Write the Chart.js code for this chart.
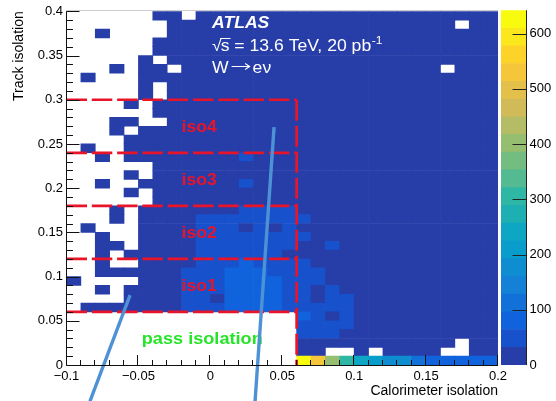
<!DOCTYPE html>
<html>
<head>
<meta charset="utf-8">
<title>Track vs calorimeter isolation</title>
<script src="https://cdn.jsdelivr.net/npm/chart.js@4.4.1/dist/chart.umd.min.js"></script>
<style>
    html, body { margin: 0; padding: 0; background: #fff; }
    #wrap { position: relative; width: 556px; height: 401px; }
    #wrap canvas { position: absolute; left: 0; top: 0; }
</style>
</head>
<body>
<div id="wrap">
    <canvas id="mapChart" width="556" height="401"></canvas>
    <canvas id="scaleChart" width="556" height="401"></canvas>
</div>
<script>
// ==============================================
// DATA
// ==============================================

// bin lower edges, bins are 0.01 wide on both axes
const xBinLows = [-0.10, -0.09, -0.08, -0.07, -0.06, -0.05, -0.04, -0.03, -0.02, -0.01,
                   0.00,  0.01,  0.02,  0.03,  0.04,  0.05,  0.06,  0.07,  0.08,  0.09,
                   0.10,  0.11,  0.12,  0.13,  0.14,  0.15,  0.16,  0.17,  0.18,  0.19];
const yBinLows = [0.00, 0.01, 0.02, 0.03, 0.04, 0.05, 0.06, 0.07, 0.08, 0.09,
                  0.10, 0.11, 0.12, 0.13, 0.14, 0.15, 0.16, 0.17, 0.18, 0.19,
                  0.20, 0.21, 0.22, 0.23, 0.24, 0.25, 0.26, 0.27, 0.28, 0.29,
                  0.30, 0.31, 0.32, 0.33, 0.34, 0.35, 0.36, 0.37, 0.38, 0.39];
const binSize = 0.01;

// entries per bin, one row per track isolation bin, top row (0.39-0.40) first, 0 = empty
const binCounts = [
    [0,0,0,0,0,0,2,2,0,3,4,4,5,5,5,      4,3,3,2,2,2,2,2,2,2,2,2,2,2,2],
    [0,0,0,0,0,0,0,2,3,3,4,5,5,5,5,      5,3,3,3,2,2,2,2,2,2,2,2,0,2,2],
    [0,0,1,0,0,0,0,2,3,4,5,5,6,6,5,      5,3,3,3,2,2,2,2,2,2,2,2,2,2,2],
    [0,0,0,0,0,0,1,2,3,4,5,6,6,6,6,      5,3,3,3,3,2,2,2,2,2,2,2,2,2,2],
    [0,0,0,0,0,0,1,2,3,4,6,6,7,6,6,      5,4,3,3,3,2,2,2,2,2,2,2,2,2,2],
    [0,0,0,0,0,1,0,2,3,4,6,6,7,7,6,      6,4,3,3,3,2,2,2,2,2,2,2,2,2,2],
    [0,0,0,1,0,1,1,0,3,4,6,7,7,7,7,      6,4,3,3,3,2,2,2,2,2,2,0,2,2,2],
    [0,1,0,0,0,1,2,2,3,5,6,7,8,8,7,      6,4,4,3,3,2,2,2,2,2,2,2,2,2,2],
    [0,0,0,0,0,1,0,2,3,5,7,8,8,8,8,      7,4,4,3,3,2,2,2,2,2,2,2,2,2,2],
    [0,0,0,0,0,1,0,2,4,5,7,8,9,9,8,      7,5,4,3,3,2,2,2,2,2,2,2,2,2,2],
    [0,0,0,0,1,0,2,3,4,6,8,9,10,10,9,    8,5,4,4,3,3,2,2,2,2,2,2,2,2,2],
    [0,0,0,0,0,0,2,3,5,6,9,10,11,11,10,  9,5,4,4,3,3,2,2,2,2,2,2,2,2,2],
    [0,0,0,1,1,0,0,3,5,7,10,11,12,12,11, 10,6,5,4,3,3,2,2,2,2,2,2,2,2,2],
    [0,0,0,1,0,2,3,4,6,8,11,12,14,14,12, 11,6,5,4,4,3,3,2,2,2,2,2,2,2,2],
    [0,0,0,0,1,2,3,5,7,9,12,14,16,16,14, 12,7,5,4,4,3,3,2,2,2,2,2,2,2,2],
    [0,1,0,0,1,2,4,5,7,10,13,15,18,18,15, 13,7,6,5,4,3,3,2,2,2,2,2,2,2,2],
    [0,0,1,0,1,2,4,6,8,11,15,17,38,20,17, 15,8,6,5,4,3,3,2,2,2,2,2,2,2,2],
    [0,0,0,0,0,0,4,6,9,12,16,19,22,22,19, 16,8,7,5,4,3,3,2,2,2,2,2,2,2,2],
    [0,0,0,0,1,0,5,7,10,13,18,21,24,24,21, 18,9,7,6,4,3,3,2,2,2,2,2,2,2,2],
    [0,0,1,0,0,3,5,8,11,15,20,23,40,27,23, 20,10,8,6,5,4,3,2,2,2,2,2,2,2,2],
    [0,0,0,0,1,0,6,9,12,16,22,26,30,30,26, 22,11,8,6,5,4,3,2,2,2,2,2,2,2,2],
    [0,0,0,0,0,0,7,10,14,18,25,28,31,31,28, 25,12,9,7,5,4,3,3,2,2,2,2,2,2,2],
    [0,0,0,1,0,4,8,12,16,24,30,30,45,48,38, 40,14,10,8,6,4,3,3,2,2,2,2,2,2,2],
    [0,0,0,1,0,5,9,13,18,34,45,48,50,52,46, 42,40,12,9,6,5,3,3,2,2,2,2,2,2,2],
    [0,1,0,0,0,5,10,14,20,36,46,50,28,52,30, 44,20,14,10,7,5,4,3,2,2,2,2,2,2,2],
    [0,0,1,0,0,6,11,16,22,38,50,54,56,55,52, 48,42,16,11,7,5,4,3,2,2,2,2,2,2,2],
    [0,0,1,1,0,7,12,18,24,40,52,56,60,58,54, 50,24,18,40,8,6,4,3,2,2,2,2,2,2,2],
    [0,0,1,0,1,8,14,20,26,42,55,60,62,60,56, 28,26,20,14,9,6,4,3,2,2,2,2,2,2,2],
    [0,0,1,0,0,9,15,22,28,45,58,64,66,64,60, 52,45,22,16,10,7,5,3,2,2,2,2,2,2,2],
    [0,0,1,1,1,10,16,24,40,48,60,66,70,68,62, 55,46,40,18,11,7,5,3,2,2,2,2,2,2,2],
    [1,0,0,0,0,11,18,26,42,50,62,68,72,75,66, 58,48,42,20,12,8,5,3,2,2,2,2,2,2,2],
    [0,0,1,0,1,12,20,28,44,52,60,70,74,78,68, 60,50,24,40,14,8,5,3,2,2,2,2,2,2,2],
    [0,0,0,0,1,14,22,30,46,54,28,72,70,66,70, 62,46,22,42,40,9,6,3,2,2,2,2,2,2,2],
    [0,1,1,1,1,16,24,32,48,55,60,70,72,68,66, 60,48,44,40,42,10,6,3,2,2,2,2,2,2,2],
    [0,0,0,0,0,0,0,0,0,0,0,0,0,0,0,      0,70,45,22,42,12,8,5,3,2,2,2,2,2,2],
    [0,0,0,0,0,0,0,0,0,0,0,0,0,0,0,      0,48,46,44,40,14,9,6,4,3,3,2,2,2,2],
    [0,0,0,0,0,0,0,0,0,0,0,0,0,0,0,      0,45,44,42,24,15,10,7,5,4,3,3,2,2,2],
    [0,0,0,0,0,0,0,0,0,0,0,0,0,0,0,      0,30,26,22,18,14,10,8,6,5,4,3,0,3,3],
    [0,0,0,0,0,0,0,0,0,0,0,0,0,0,0,      0,24,18,0,0,12,0,8,7,6,5,0,0,4,4],
    [0,0,0,0,0,0,0,0,0,0,0,0,0,0,0,      0,642,530,400,300,245,205,180,175,100,95,92,95,90,88]
];

// axis ticks and labels
const xTickValues = [-0.1, -0.05, 0, 0.05, 0.1, 0.15, 0.2];
const xTickLabels = ['\u22120.1', '\u22120.05', '0', '0.05', '0.1', '0.15', '0.2'];
const yTickValues = [0, 0.05, 0.1, 0.15, 0.2, 0.25, 0.3, 0.35, 0.4];
const yTickLabels = ['0', '0.05', '0.1', '0.15', '0.2', '0.25', '0.3', '0.35', '0.4'];
const zTickValues = [0, 100, 200, 300, 400, 500, 600];
const zTickLabels = ['0', '100', '200', '300', '400', '500', '600'];
const zMax = 642;

// isolation working points: upper track isolation edge of each region, calo cut
const isoCuts = [0.06, 0.12, 0.18, 0.24, 0.30];
const isoNames = ['iso1', 'iso2', 'iso3', 'iso4'];
const caloCut = 0.06;

// the two blue pointer strokes (ends in axis units)
const pointerA = [{ x: -0.0558, y: 0.079 }, { x: -0.0837, y: -0.041 }];
const pointerB = [{ x: 0.0443, y: 0.269 }, { x: 0.0311, y: -0.041 }];

// ==============================================
// STYLE
// ==============================================
// ROOT kBird palette, 20 contour levels
const levelColours = ['#273da8', '#1751cb', '#1063dc', '#1271d9', '#1480d6',
                      '#0e8ed1', '#099dcc', '#0da7c3', '#1eafb3', '#2eb7a4',
                      '#53ba91', '#74bd81', '#96be71', '#b4bd65', '#d1bb59',
                      '#e3c04a', '#f5c63a', '#fdd32a', '#fbe81c', '#f9fb0e'];
const FONT = "'Liberation Sans', Arial, Helvetica, sans-serif";
const textStretch = 1.1;
const isoRed = '#e8142a';
const passGreen = '#27e42a';
const pointerBlue = 'rgb(78,146,214)';

function levelColour(n) {
    const lvl = Math.min(levelColours.length - 1, Math.floor(n / zMax * levelColours.length));
    return levelColours[lvl];
}

// ==============================================
// BUILD HEATMAP CELLS
// ==============================================
const cells = [];
const cellColours = [];
binCounts.forEach(function(row, r) {
    const yLow = yBinLows[yBinLows.length - 1 - r];
    row.forEach(function(n, c) {
        if (!n) return;
        cells.push({ x: xBinLows[c] + binSize / 2, y: [yLow, yLow + binSize] });
        cellColours.push(levelColour(n));
    });
});

const cutLines = isoCuts.map(function(cut) {
    return {
        type: 'line',
        data: [{ x: xBinLows[0], y: cut }, { x: caloCut, y: cut }],
        borderColor: isoRed,
        borderWidth: 2.7,
        borderDash: [20.5, 4.8],
        pointRadius: 0,
        order: 2
    };
});
cutLines.push({
    type: 'line',
    data: [{ x: caloCut, y: isoCuts[isoCuts.length - 1] }, { x: caloCut, y: 0 }],
    borderColor: isoRed,
    borderWidth: 2.7,
    borderDash: [21, 5],
    pointRadius: 0,
    order: 2
});

const pointerLines = [pointerA, pointerB].map(function(pts) {
    return {
        type: 'line',
        data: pts,
        borderColor: pointerBlue,
        borderWidth: 3.4,
        pointRadius: 0,
        clip: false,
        order: 1
    };
});

// ==============================================
// PLUGINS
// ==============================================
function stretchedText(ctx, text, x, y, font, colour) {
    ctx.save();
    ctx.translate(x, y);
    ctx.scale(textStretch, 1);
    ctx.font = font;
    ctx.fillStyle = colour;
    ctx.textAlign = 'left';
    ctx.textBaseline = 'alphabetic';
    ctx.fillText(text, 0, 0);
    const w = ctx.measureText(text).width * textStretch;
    ctx.restore();
    return w;
}

// labels drawn right after the heatmap, below the lines
const plotLabels = {
    id: 'plotLabels',
    afterDatasetDraw(chart, args) {
        if (args.index !== 0) return;
        const { ctx, scales: { x, y } } = chart;

        // ATLAS block
        const left = 212;
        stretchedText(ctx, 'ATLAS', left, 28, 'italic bold 16px ' + FONT, '#fff');
        const rootW = stretchedText(ctx, '\u221A', left, 50.5, '16px ' + FONT, '#fff');
        const sW = stretchedText(ctx, 's', left + rootW - 1, 50.5, '16px ' + FONT, '#fff');
        ctx.save();
        ctx.strokeStyle = '#fff';
        ctx.lineWidth = 1;
        ctx.beginPath();
        ctx.moveTo(left + rootW - 1.5, 38.5);
        ctx.lineTo(left + rootW + sW, 38.5);
        ctx.stroke();
        ctx.restore();
        const restW = stretchedText(ctx, ' = 13.6 TeV, 20 pb', left + rootW + sW - 1, 50.5, '16px ' + FONT, '#fff');
        stretchedText(ctx, '-1', left + rootW + sW + restW - 0.5, 44, '11px ' + FONT, '#fff');

        // W -> e nu, with a drawn long arrow
        const wW = stretchedText(ctx, 'W', left, 73, '16px ' + FONT, '#fff');
        const ax0 = left + wW + 3, ax1 = ax0 + 18, ay = 66.5;
        ctx.save();
        ctx.strokeStyle = '#fff';
        ctx.lineWidth = 1.1;
        ctx.beginPath();
        ctx.moveTo(ax0, ay);
        ctx.lineTo(ax1, ay);
        ctx.moveTo(ax1 - 4.5, ay - 3);
        ctx.lineTo(ax1, ay);
        ctx.lineTo(ax1 - 4.5, ay + 3);
        ctx.stroke();
        ctx.restore();
        stretchedText(ctx, 'e\u03BD', ax1 + 3, 73, '16px ' + FONT, '#fff');

        // isolation region names
        isoNames.forEach(function(name, i) {
            const mid = (isoCuts[i] + isoCuts[i + 1]) / 2;
            stretchedText(ctx, name, x.getPixelForValue(-0.02), y.getPixelForValue(mid) + 5.8,
                'bold 16px ' + FONT, isoRed);
        });
        stretchedText(ctx, 'pass isolation', x.getPixelForValue(-0.0477), y.getPixelForValue(0.0237),
            'bold 16.5px ' + FONT, passGreen);
    }
};

// ROOT style frame with inward tick marks
const rootAxes = {
    id: 'rootAxes',
    afterDatasetsDraw(chart) {
        const { ctx, chartArea: a, scales: { x, y } } = chart;
        const isMajor = (list, v) => list.some(t => Math.abs(t - v) < 1e-6);
        ctx.save();
        ctx.lineWidth = 1;
        ctx.strokeStyle = '#ccc';
        ctx.beginPath();
        ctx.moveTo(a.left, Math.round(a.top) - 0.5);
        ctx.lineTo(a.right, Math.round(a.top) - 0.5);
        ctx.stroke();

        ctx.strokeStyle = '#111';
        ctx.beginPath();
        const bx = Math.round(a.left) - 0.5;
        const by = Math.round(a.bottom) + 0.5;
        ctx.moveTo(bx, a.top);
        ctx.lineTo(bx, by);
        ctx.lineTo(a.right, by);
        xBinLows.concat([0.2]).forEach(function(v) {
            const px = Math.round(x.getPixelForValue(v)) - 0.5;
            const len = isMajor(xTickValues, v) ? 10.5 : 5.5;
            ctx.moveTo(px, by);
            ctx.lineTo(px, by - len);
        });
        yBinLows.concat([0.4]).forEach(function(v) {
            const py = Math.round(y.getPixelForValue(v)) + 0.5;
            const len = isMajor(yTickValues, v) ? 13 : 6.5;
            ctx.moveTo(bx, py);
            ctx.lineTo(bx + len, py);
        });
        ctx.stroke();
        ctx.restore();
    }
};

// ==============================================
// MAIN CHART
// ==============================================
new Chart(document.getElementById('mapChart'), {
    type: 'bar',
    data: {
        datasets: [{
            type: 'bar',
            data: cells,
            backgroundColor: cellColours,
            borderWidth: 0,
            barPercentage: 1,
            categoryPercentage: 1,
            order: 3
        }].concat(cutLines, pointerLines)
    },
    options: {
        responsive: false,
        animation: false,
        events: [],
        devicePixelRatio: 1,
        layout: { padding: { top: 9.5, right: 58, left: 0, bottom: 0 } },
        plugins: {
            legend: { display: false },
            tooltip: { enabled: false }
        },
        scales: {
            x: {
                type: 'linear',
                min: -0.1,
                max: 0.2,
                offset: false,
                grid: { display: false, drawTicks: false, offset: false },
                border: { display: false },
                afterBuildTicks: s => { s.ticks = xTickValues.map(v => ({ value: v })); },
                afterFit: s => { s.height = 36; },
                ticks: {
                    autoSkip: false,
                    maxRotation: 0,
                    padding: 3.5,
                    color: '#000',
                    font: { family: FONT, size: 13 },
                    callback: (v, i) => xTickLabels[i]
                },
                title: {
                    display: true,
                    text: 'Calorimeter isolation',
                    align: 'end',
                    color: '#000',
                    font: { family: FONT, size: 14 },
                    padding: { top: 0, bottom: 1 }
                }
            },
            y: {
                type: 'linear',
                min: 0,
                max: 0.4,
                grid: { display: false, drawTicks: false },
                border: { display: false },
                afterBuildTicks: s => { s.ticks = yTickValues.map(v => ({ value: v })); },
                afterFit: s => { s.width = 66.5; },
                ticks: {
                    autoSkip: false,
                    padding: 3.5,
                    color: '#000',
                    font: { family: FONT, size: 13 },
                    callback: (v, i) => yTickLabels[i]
                },
                title: {
                    display: true,
                    text: 'Track isolation',
                    align: 'end',
                    color: '#000',
                    font: { family: FONT, size: 14 },
                    padding: { top: 11, bottom: 0 }
                }
            }
        }
    },
    plugins: [plotLabels, rootAxes]
});

// ==============================================
// COLOUR SCALE (z axis)
// ==============================================
const zBands = levelColours.map(function(c, i) {
    return {
        data: [[zMax * i / levelColours.length, zMax * (i + 1) / levelColours.length]],
        backgroundColor: c,
        borderWidth: 0,
        grouped: false,
        barPercentage: 1,
        categoryPercentage: 1
    };
});

const zAxisTicks = {
    id: 'zAxisTicks',
    afterDatasetsDraw(chart) {
        const { ctx, chartArea: a, scales: { y } } = chart;
        ctx.save();
        ctx.strokeStyle = '#222';
        ctx.lineWidth = 1;
        ctx.beginPath();
        const rx = Math.round(a.right) - 0.5;
        ctx.moveTo(rx, a.top);
        ctx.lineTo(rx, a.bottom);
        zTickValues.forEach(function(v) {
            if (v === 0) return;
            const py = Math.round(y.getPixelForValue(v)) + 0.5;
            ctx.moveTo(rx, py);
            ctx.lineTo(rx - 14, py);
        });
        ctx.stroke();
        ctx.restore();
    }
};

new Chart(document.getElementById('scaleChart'), {
    type: 'bar',
    data: { labels: [''], datasets: zBands },
    options: {
        responsive: false,
        animation: false,
        events: [],
        devicePixelRatio: 1,
        layout: { padding: { top: 9.5, right: 0, left: 501, bottom: 36 } },
        plugins: {
            legend: { display: false },
            tooltip: { enabled: false }
        },
        scales: {
            x: { display: false },
            y: {
                position: 'right',
                min: 0,
                max: zMax,
                grid: { display: false, drawTicks: false },
                border: { display: false },
                afterBuildTicks: s => { s.ticks = zTickValues.map(v => ({ value: v })); },
                afterFit: s => { s.width = 29; },
                ticks: {
                    padding: 2.5,
                    color: '#000',
                    font: { family: FONT, size: 13 },
                    callback: (v, i) => zTickLabels[i]
                }
            }
        }
    },
    plugins: [zAxisTicks]
});
</script>
</body>
</html>
